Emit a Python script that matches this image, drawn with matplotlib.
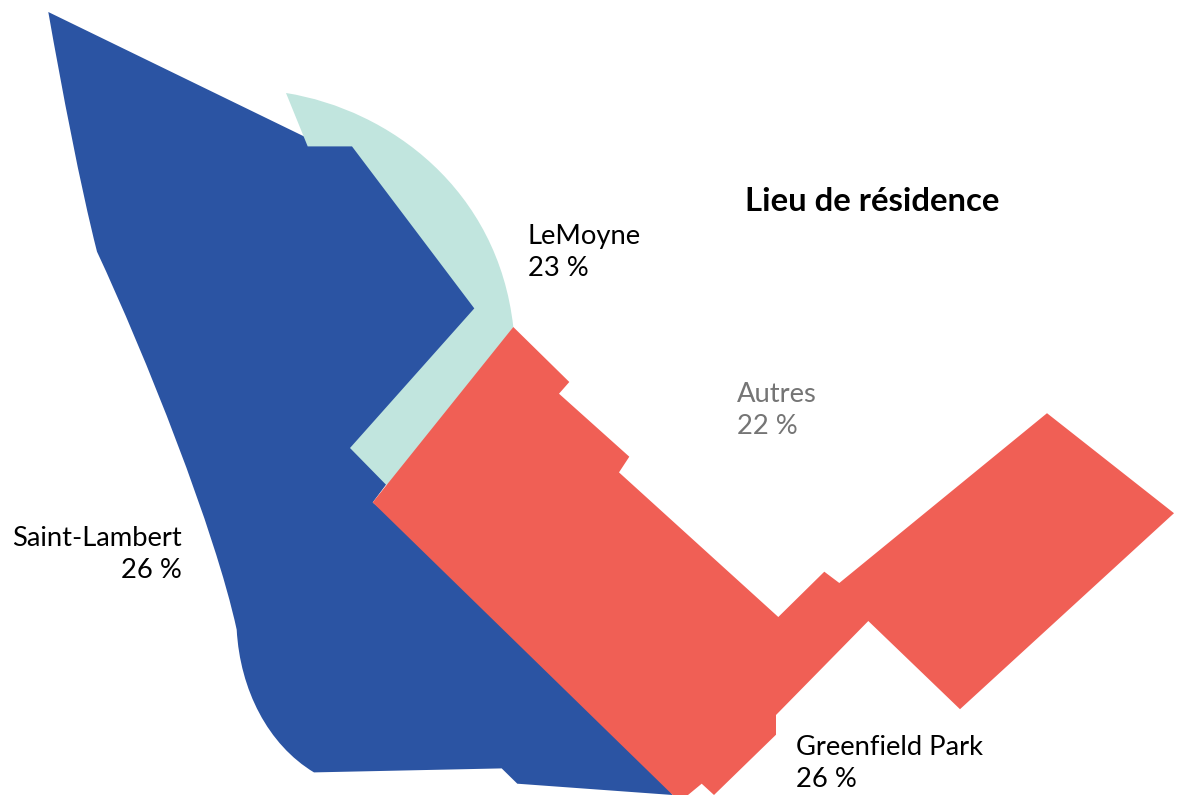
import matplotlib
matplotlib.use('Agg')
import matplotlib.pyplot as plt
from matplotlib.patches import PathPatch
from matplotlib.path import Path

WIDTH, HEIGHT = 1177, 803

# outlines (x, y in image pixels)
# one point = straight edge, three points = cubic curve (two controls, then the end)
# the edges of blue and mint that end up hidden run under the shape drawn after them
saint_lambert = [
    [(48.3, 12.3)], [(304, 136.7)], [(345, 130)], [(490, 305)], [(395, 460)], [(386, 485)],
    [(372.7, 502.7)], [(600, 690)], [(672.7, 795.3)], [(517.3, 784)], [(501.7, 768.7)], [(314, 772.7)],
    [(268, 745), (240, 690), (236.7, 630)],
    [(215, 530), (145, 355), (97, 252)],
    [(80, 185), (62, 90), (48.3, 12.3)],
]
lemoyne = [
    [(286, 93.3)],
    [(390, 110), (498, 190), (513.3, 327.3)],
    [(420, 470)], [(386, 485)], [(350, 448.3)], [(474.3, 308.7)], [(352, 146.7)], [(307.7, 146.7)],
    [(286, 93.3)],
]
greenfield_park = [
    [(513.3, 327.3)], [(569.3, 382.3)], [(559, 394)], [(629.3, 457)], [(619, 472.7)], [(778.3, 617.3)],
    [(824.3, 572)], [(839.3, 583.3)], [(1047, 413.5)], [(1174, 513.5)], [(960, 709.5)], [(868.3, 621.3)],
    [(776, 715.3)], [(776, 735)], [(714, 795.3)], [(701.7, 784)], [(688, 795.3)], [(672.7, 795.3)],
    [(372.7, 502.7)], [(513.3, 327.3)],
]

district_names = ['Saint-Lambert', 'LeMoyne', 'Greenfield Park', 'Autres']
district_shares = [26, 23, 26, 22]
chart_title = 'Lieu de résidence'

BLUE = '#2b54a3'
MINT = '#c1e5de'
RED = '#f05f55'
plt.rcParams['font.family'] = ['Lato', 'DejaVu Sans']


def outline_path(segments):
    verts, codes = [], []
    for i, seg in enumerate(segments):
        verts.extend(seg)
        if i == 0:
            codes.append(Path.MOVETO)
        elif len(seg) == 3:
            codes.extend([Path.CURVE4] * 3)
        else:
            codes.append(Path.LINETO)
    return Path(verts, codes)


fig = plt.figure(figsize=(WIDTH / 100, HEIGHT / 100), dpi=100)
ax = fig.add_axes([0, 0, 1, 1])
ax.set_xlim(0, WIDTH)
ax.set_ylim(HEIGHT - 0.7, -0.7)
ax.axis('off')

for outline, colour in [(saint_lambert, BLUE), (lemoyne, MINT), (greenfield_park, RED)]:
    ax.add_patch(PathPatch(outline_path(outline), facecolor=colour, edgecolor='none'))


def label(x, y, i, colour='black', ha='left'):
    ax.text(x, y, f'{district_names[i]}\n{district_shares[i]} %', color=colour, ha=ha, va='center',
            fontsize=19.7, linespacing=1.33)


label(182, 554, 0, ha='right')
label(528, 252, 1)
label(796, 763, 2)
label(737, 410, 3, colour='#757575')
ax.text(745, 201, chart_title, fontsize=23.7, fontweight='bold', color='black', va='center')

fig.savefig('out.png', dpi=100)
